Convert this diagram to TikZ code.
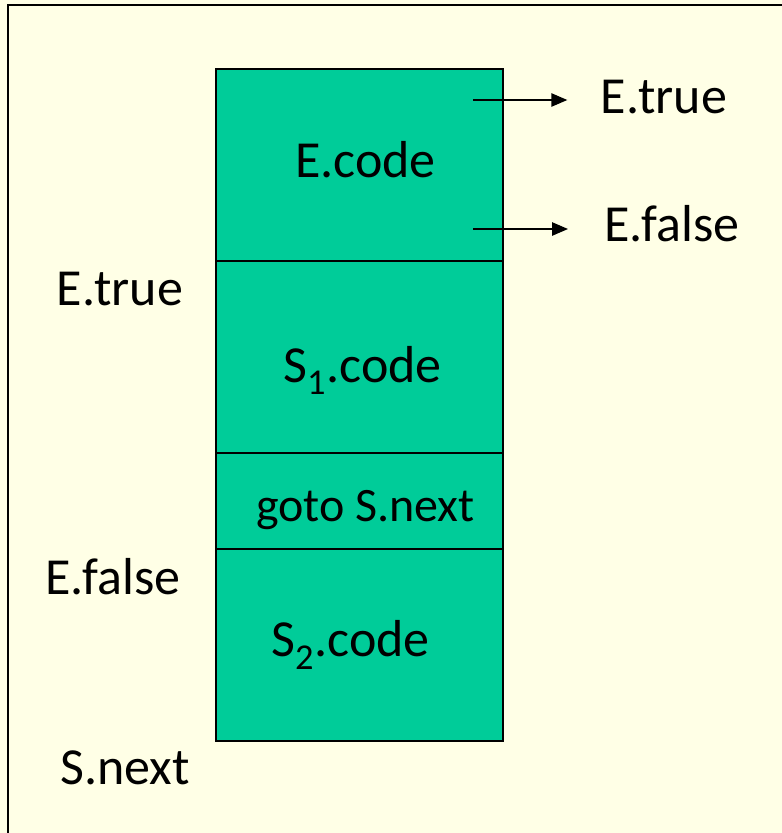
\documentclass[tikz,border=0pt]{standalone}
\usepackage{fontspec}
\setmainfont{Carlito}
\usetikzlibrary{arrows.meta}
\definecolor{paper}{RGB}{255,255,230}
\definecolor{codegreen}{RGB}{0,204,153}

\begin{document}
\begin{tikzpicture}[x=0.75pt, y=-0.75pt, font=\fontsize{39}{44}\selectfont,
    seg/.style={draw, line width=1.5pt, fill=codegreen, inner sep=0pt,
      minimum width=215.25pt},
    lbl/.style={inner sep=0pt},
    jump/.style={-{Triangle[length=12pt, width=10pt]}, line width=1.2pt}]
  \useasboundingbox (0,0) rectangle (782,833);
  \fill[paper] (0,0) rectangle (782,833);
  \draw[line width=1.3pt] (8,845) -- (8,5) -- (795,5);
  % ---- code layout of the if-then-else, one block per part ----
  \foreach \name/\yc/\h/\dx/\dy/\t in {
    ecode/165/192/6/-5/{E.code},
    sone/357/192/3/13/{S\textsubscript{1}.code},
    jmp/501/96/6/9/{\fontsize{36}{40}\selectfont goto S.next},
    stwo/645/192/-9/0/{S\textsubscript{2}.code}} {
    \node[seg, minimum height=\h*0.75pt] (\name) at (359.5,\yc) {};
    \node[lbl] (\name-t) at ([xshift=\dx*0.75pt, yshift=-\dy*0.75pt]\name.center) {\t};
  }
  % ---- labels on the left mark where each part starts ----
  \node[lbl] (ltrue) at (120,289) {E.true};
  \node[lbl] (lfalse) at (113,577) {E.false};
  \node[lbl] (lnext) at (125,768) {S.next};
  % ---- jumps out of the condition code ----
  \node[lbl] (rtrue) at (664,97) {E.true};
  \node[lbl] (rfalse) at (672,224) {E.false};
  \coordinate (jt) at (473,100);
  \coordinate (jf) at (473,229);
  \draw[jump, shorten >=25pt] (jt) -- (jt -| rtrue.west);
  \draw[jump, shorten >=27pt] (jf) -- (jf -| rfalse.west);
\end{tikzpicture}
\end{document}
